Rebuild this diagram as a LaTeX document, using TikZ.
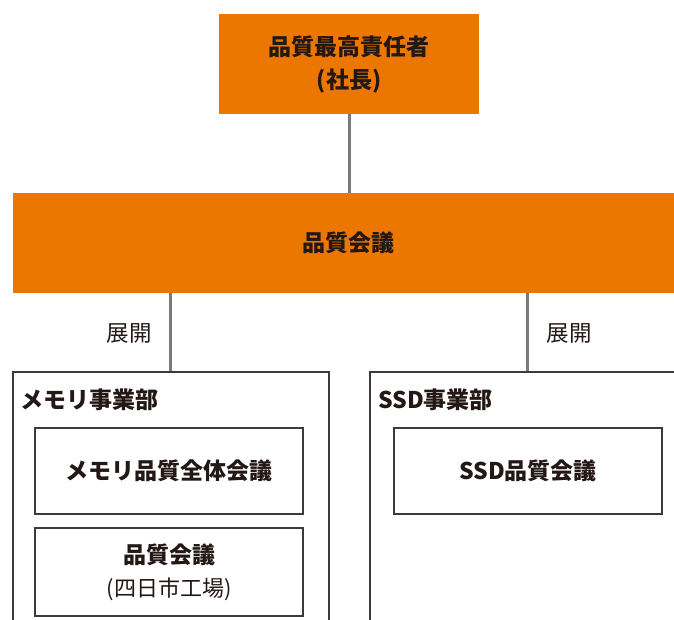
\documentclass[tikz,border=0pt]{standalone}
\usepackage{fontspec}
\setmainfont{Noto Sans CJK JP}
\definecolor{orng}{RGB}{235,118,0}
\definecolor{txt}{RGB}{35,24,21}
\definecolor{linegray}{RGB}{122,122,122}
\definecolor{boxline}{RGB}{62,58,57}
\begin{document}
\begin{tikzpicture}[x=1pt,y=-1pt,
  orangebox/.style={fill=orng, draw=none, inner sep=0pt, text=txt, align=center,
    font=\bfseries\fontsize{23}{33}\selectfont},
  outerbox/.style={draw=boxline, line width=1.5pt, inner sep=0pt, minimum width=316pt, minimum height=320pt},
  innerbox/.style={draw=boxline, line width=1.5pt, inner sep=0pt, text=txt, align=center, minimum width=268pt,
    font=\bfseries\fontsize{23}{33}\selectfont},
  conn/.style={draw=linegray, line width=3pt},
  lbl/.style={text=txt, inner sep=0pt, font=\bfseries\fontsize{23}{26}\selectfont},
  small/.style={text=txt, inner sep=0pt, font=\fontsize{22.5}{26}\selectfont}]
\useasboundingbox (0,0) rectangle (674,619);
\clip (0,0) rectangle (674,619);
\node[orangebox, minimum width=260pt, minimum height=100pt] (top) at (349,64) {品質最高責任者\\(社長)};
\node[orangebox, minimum width=671pt, minimum height=100pt] (band) at (348.5,243) {品質会議};
\draw[conn] (top.south) -- (top.south |- band.north);
\node[outerbox, anchor=north west] (memo) at (12,371) {};
\node[outerbox, anchor=north west] (ssd) at (369,371) {};
\draw[conn] (memo.north |- band.south) -- coordinate[midway] (m1) (memo.north);
\draw[conn] (ssd.north |- band.south) -- coordinate[midway] (m2) (ssd.north);
\node[small, anchor=east] (ten1) at ([xshift=-19pt,yshift=-1pt]m1) {展開};
\node[small, anchor=west] (ten2) at ([xshift=19pt,yshift=-1pt]m2) {展開};
\node[lbl, anchor=west] (memolbl) at (20,400) {メモリ事業部};
\node[lbl, anchor=west] (ssdlbl) at (378,400) {SSD事業部};
\node[innerbox, minimum height=86pt] (mz) at (169,471) {メモリ品質全体会議};
\node[innerbox, minimum height=88pt] (yk) at (169,572) {品質会議\\{\mdseries\fontsize{22}{33}\selectfont(四日市工場)}};
\node[innerbox, minimum height=86pt] (sq) at (528,471) {SSD品質会議};
\end{tikzpicture}
\end{document}
